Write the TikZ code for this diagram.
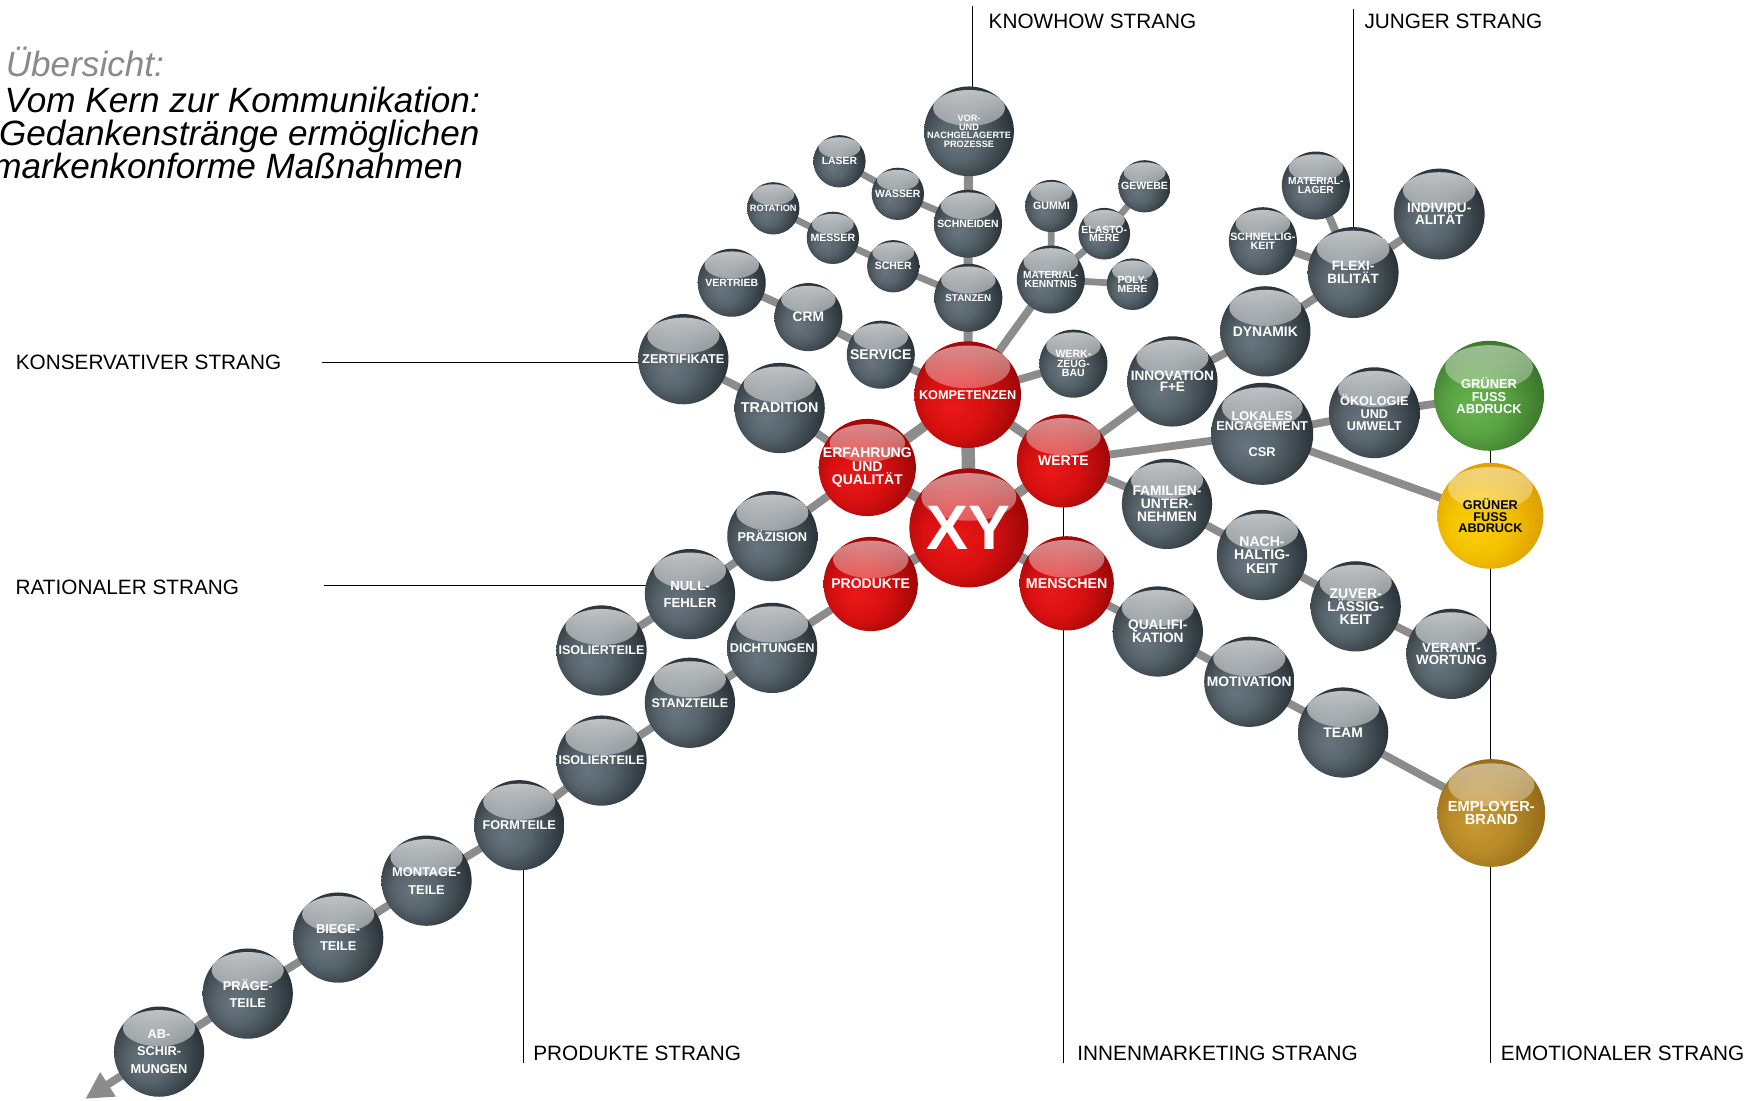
\documentclass[tikz,border=0pt]{standalone}
\usepackage{fontspec}
\setmainfont{Liberation Sans}
\usetikzlibrary{fadings,arrows.meta}
\definecolor{gA}{HTML}{68757E}
\definecolor{gB}{HTML}{58646C}
\definecolor{gC}{HTML}{232C32}
\definecolor{rA}{HTML}{EA1818}
\definecolor{rB}{HTML}{D81010}
\definecolor{rC}{HTML}{920505}
\definecolor{grA}{HTML}{68B450}
\definecolor{grB}{HTML}{58A242}
\definecolor{grC}{HTML}{356C26}
\definecolor{yA}{HTML}{FACE08}
\definecolor{yB}{HTML}{F4C200}
\definecolor{yC}{HTML}{D89800}
\definecolor{oA}{HTML}{C69A34}
\definecolor{oB}{HTML}{B88A28}
\definecolor{oC}{HTML}{8E6416}
\definecolor{conncol}{HTML}{8C8C8C}
\definecolor{titlegray}{HTML}{8A8A8A}
\pgfdeclareradialshading{sgray}{\pgfpoint{-8bp}{-6bp}}{color(0bp)=(gA); color(12bp)=(gB); color(31bp)=(gC); color(50bp)=(gC)}
\pgfdeclareradialshading{sred}{\pgfpoint{-8bp}{-6bp}}{color(0bp)=(rA); color(14bp)=(rB); color(32bp)=(rC); color(50bp)=(rC)}
\pgfdeclareradialshading{sgreen}{\pgfpoint{-8bp}{-6bp}}{color(0bp)=(grA); color(14bp)=(grB); color(32bp)=(grC); color(50bp)=(grC)}
\pgfdeclareradialshading{syellow}{\pgfpoint{-8bp}{-6bp}}{color(0bp)=(yA); color(14bp)=(yB); color(32bp)=(yC); color(50bp)=(yC)}
\pgfdeclareradialshading{sgold}{\pgfpoint{-8bp}{-6bp}}{color(0bp)=(oA); color(14bp)=(oB); color(32bp)=(oC); color(50bp)=(oC)}
\pgfdeclarelayer{back}
\pgfdeclarelayer{bg}
\pgfsetlayers{back,bg,main}
\tikzset{
  ball/.style n args={3}{circle, minimum size=#1, inner sep=0pt, outer sep=0pt,
    shading=#2, text=white, align=center,
    path picture={\fill[white, fill opacity=#3, path fading=south]
      ([yshift=0.26*#1]path picture bounding box.center) ellipse [x radius=0.40*#1, y radius=0.20*#1];}},
  gb/.style={ball={#1}{sgray}{0.72}},
  rb/.style={ball={#1}{sred}{0.55}},
  fnt/.style 2 args={font=\bfseries\fontsize{#1}{#2}\selectfont},
  conn/.style={draw=conncol, line width=7pt},
  thinconn/.style={draw=conncol, line width=6pt},
  lab/.style={draw=black, line width=1pt},
  labtext/.style={anchor=base west, inner sep=0pt, font=\fontsize{18.5}{20}\selectfont},
  titletext/.style={anchor=base west, inner sep=0pt, font=\itshape\fontsize{31.3}{30}\selectfont},
}
\begin{document}
\begin{tikzpicture}[x=1pt,y=-1pt]
\useasboundingbox (0,0) rectangle (1568,980);
\clip (0,0) rectangle (1568,980);
\begin{pgfonlayer}{back}
\fill[white] (0,0) rectangle (1568,980);
\end{pgfonlayer}

% title
\node[titletext, text=titlegray] (t0) at (5,68) {Übersicht:};
\node[titletext] (t1) at (4,100) {Vom Kern zur Kommunikation:};
\node[titletext] (t2) at (-1,130) {Gedankenstränge ermöglichen};
\node[titletext] (t3) at (-7,159) {markenkonforme Maßnahmen};

% strand labels
\node[labtext] (lKnow) at (880.6,25) {KNOWHOW STRANG};
\node[labtext] (lJung) at (1215.5,25) {JUNGER STRANG};
\node[labtext] (lKons) at (13.9,329.6) {KONSERVATIVER STRANG};
\node[labtext] (lRat) at (13.7,529.5) {RATIONALER STRANG};
\node[labtext] (lProd) at (475,945) {PRODUKTE STRANG};
\node[labtext] (lInnen) at (959.7,945) {INNENMARKETING STRANG};
\node[labtext] (lEmo) at (1337,945) {EMOTIONALER STRANG};

% red core
\node[rb=106pt, fnt={56}{56}] (XY) at (863.2,470.3) {XY};
\node[rb=95pt, fnt={11.3}{11}] (KOMP) at (862.1,351.6) {KOMPETENZEN};
\node[rb=84pt, fnt={12.5}{12.2}] (ERF) at (772.7,416.5) {ERFAHRUNG\\UND\\QUALITÄT};
\node[rb=83pt, fnt={12.5}{12}] (WERTE) at (947.4,410.6) {WERTE};
\node[rb=84pt, fnt={12.5}{12}] (PROD) at (775.7,520.3) {PRODUKTE};
\node[rb=84pt, fnt={12.7}{12}] (MENS) at (950.3,519.7) {MENSCHEN};

% knowhow branch
\node[gb=60.6pt, fnt={8.8}{8.5}] (STANZ) at (862.7,265.3) {STANZEN};
\node[gb=60.6pt, fnt={9.3}{9}] (SCHN) at (862.4,199.3) {SCHNEIDEN};
\node[gb=80pt, fnt={8.2}{7.6}] (VOR) at (863.3,117) {VOR-\\UND\\NACHGELAGERTE\\PROZESSE};
\node[gb=46.6pt, fnt={9.3}{9}] (WASS) at (799.9,172.7) {WASSER};
\node[gb=46.6pt, fnt={9.3}{9}] (LASER) at (747.9,143.7) {LASER};
\node[gb=46.6pt, fnt={9.4}{9}] (SCHER) at (795.8,237.2) {SCHER};
\node[gb=46.6pt, fnt={9.4}{9}] (MESS) at (742,211.9) {MESSER};
\node[gb=46.6pt, fnt={8.2}{8}] (ROT) at (688.9,185.6) {ROTATION};
\node[gb=60.6pt, fnt={9.1}{7.6}] (MATK) at (936.2,249) {MATERIAL-\\KENNTNIS};
\node[gb=46.6pt, fnt={9.5}{9}] (GUMMI) at (936.7,183.5) {GUMMI};
\node[gb=46pt, fnt={9.3}{7.4}] (ELAST) at (983.8,208.2) {ELASTO-\\MERE};
\node[gb=46.6pt, fnt={9.4}{9}] (GEW) at (1019.7,166) {GEWEBE};
\node[gb=46pt, fnt={9.2}{7.8}] (POLY) at (1009,253.2) {POLY-\\MERE};
\node[gb=60.6pt, fnt={9.4}{8.3}] (WERKZ) at (956.3,324) {WERK-\\ZEUG-\\BAU};

% conservative branch
\node[gb=60.6pt, fnt={12.5}{12}] (SERV) at (784.7,316) {SERVICE};
\node[gb=60.6pt, fnt={12.3}{12}] (CRM) at (720.2,282.5) {CRM};
\node[gb=60.6pt, fnt={9.3}{9}] (VERT) at (651.9,251.9) {VERTRIEB};
\node[gb=80.4pt, fnt={11.4}{11}] (ZERT) at (608.8,320) {ZERTIFIKATE};
\node[gb=80.4pt, fnt={12.7}{12}] (TRAD) at (694.6,363.5) {TRADITION};

% rational / product branch
\node[gb=80.4pt, fnt={11.4}{11}] (PRAEZ) at (688.1,477.7) {PRÄZISION};
\node[gb=80.4pt, fnt={11.7}{15}] (NULL) at (614.7,529.3) {NULL-\\FEHLER};
\node[gb=80.4pt, fnt={11.2}{11}] (ISOa) at (535.9,579.5) {ISOLIERTEILE};
\node[gb=80.4pt, fnt={11.3}{11}] (DICHT) at (687.9,577.2) {DICHTUNGEN};
\node[gb=80.4pt, fnt={11.2}{11}] (STZT) at (614.6,626.1) {STANZTEILE};
\node[gb=80.4pt, fnt={11.2}{11}] (ISOb) at (535.9,677.6) {ISOLIERTEILE};
\node[gb=80.4pt, fnt={11.3}{11}] (FORM) at (462.6,735.2) {FORMTEILE};
\node[gb=80.4pt, fnt={11.4}{16}] (MONT) at (380,784.6) {MONTAGE-\\TEILE};
\node[gb=80.4pt, fnt={11.4}{15.3}] (BIEGE) at (301.3,835.3) {BIEGE-\\TEILE};
\node[gb=80.4pt, fnt={11.4}{15.3}] (PRAEG) at (220.7,885.2) {PRÄGE-\\TEILE};
\node[gb=80.4pt, fnt={11.4}{16}] (AB) at (141.7,936.9) {AB-\\SCHIR-\\MUNGEN};
\coordinate (arrEnd) at (76,979);

% young branch
\node[gb=80.4pt, fnt={12.1}{10.4}] (INNO) at (1044.5,339.8) {INNOVATION\\F+E};
\node[gb=80.4pt, fnt={12.4}{12}] (DYN) at (1127.3,295.2) {DYNAMIK};
\node[gb=81pt, fnt={12}{11}] (FLEX) at (1205.5,242.8) {FLEXI-\\BILITÄT};
\node[gb=60.6pt, fnt={9.5}{7.4}] (SCHNL) at (1125.1,214.9) {SCHNELLIG-\\KEIT};
\node[gb=60.6pt, fnt={9.1}{7.2}] (MATL) at (1172.3,165.3) {MATERIAL-\\LAGER};
\node[gb=81pt, fnt={12.1}{11}] (INDIV) at (1282.2,190.7) {INDIVIDU-\\ALITÄT};

% emotional / values branch
\node[gb=90pt, fnt={11.4}{9.5}] (LOK) at (1124.5,386.5) {LOKALES\\ENGAGEMENT\\[13pt]CSR};
\node[gb=81pt, fnt={11.3}{11}] (OEKO) at (1224.4,367.7) {ÖKOLOGIE\\UND\\UMWELT};
\node[ball={98pt}{sgreen}{0.5}, fnt={11.5}{11.2}] (GREEN) at (1326.6,352.6) {GRÜNER\\FUSS\\ABDRUCK};
\node[ball={94.4pt}{syellow}{0.5}, fnt={11.3}{10.2}, text=black] (YEL) at (1327.8,459.5) {GRÜNER\\FUSS\\ABDRUCK};
\node[gb=80.4pt, fnt={12.3}{11.9}] (FAM) at (1039.7,448.9) {FAMILIEN-\\UNTER-\\NEHMEN};
\node[gb=80.4pt, fnt={12.5}{11.9}] (NACH) at (1124.3,494.5) {NACH-\\HALTIG-\\KEIT};
\node[gb=80.4pt, fnt={12.5}{11.5}] (ZUV) at (1207.8,540.2) {ZUVER-\\LÄSSIG-\\KEIT};
\node[gb=80.4pt, fnt={11.9}{11}] (VERA) at (1293.1,582.5) {VERANT-\\WORTUNG};

% inner marketing branch
\node[gb=80.4pt, fnt={12.2}{11.1}] (QUAL) at (1031.5,562.6) {QUALIFI-\\KATION};
\node[gb=80.4pt, fnt={12.3}{12}] (MOT) at (1113,607.4) {MOTIVATION};
\node[gb=80.4pt, fnt={12.4}{12}] (TEAM) at (1196.6,652.6) {TEAM};
\node[ball={96pt}{sgold}{0.5}, fnt={13}{11.5}] (EMPL) at (1328.6,724.3) {EMPLOYER-\\BRAND};

% label line ends
\coordinate (kwTop) at (866.7,5.5);
\coordinate (jgTop) at (1205.6,8.2);
\coordinate (ksL) at (287.2,322.8);
\coordinate (raL) at (288.3,521.6);
\coordinate (prB) at (466.7,947.4);
\coordinate (inB) at (947.5,947.4);
\coordinate (emB) at (1327.8,947.4);

\begin{pgfonlayer}{bg}
% label lines
\draw[lab] (kwTop) -- (kwTop |- VOR.center);
\draw[lab] (jgTop) -- (jgTop |- FLEX.center);
\draw[lab] (ksL) -- (ksL -| ZERT.center);
\draw[lab] (raL) -- (raL -| NULL.center);
\draw[lab] (prB) -- (prB |- FORM.center);
\draw[lab] (inB) -- (inB |- WERTE.center);
\draw[lab] (emB) -- (emB |- GREEN.center);
% core
\draw[conn, line width=12pt] (XY.center) -- (KOMP.center);
\draw[conn, line width=9pt] (XY.center) -- (ERF.center);
\draw[conn, line width=9pt] (XY.center) -- (WERTE.center);
\draw[conn, line width=9pt] (XY.center) -- (PROD.center);
\draw[conn, line width=9pt] (XY.center) -- (MENS.center);
\draw[conn, line width=9pt] (ERF.center) -- (KOMP.center);
\draw[conn, line width=8pt] (KOMP.center) -- (WERTE.center);
% knowhow
\draw[conn, line width=8pt] (KOMP.center) -- (STANZ.center) -- (SCHN.center) -- (VOR.center);
\draw[thinconn] (SCHN.center) -- (WASS.center) -- (LASER.center);
\draw[thinconn] (STANZ.center) -- (SCHER.center) -- (MESS.center) -- (ROT.center);
\draw[conn] (KOMP.center) -- (MATK.center);
\draw[thinconn] (MATK.center) -- (GUMMI.center);
\draw[thinconn] (MATK.center) -- (ELAST.center) -- (GEW.center);
\draw[thinconn] (MATK.center) -- (POLY.center);
\draw[conn] (KOMP.center) -- (WERKZ.center);
% conservative
\draw[conn] (KOMP.center) -- (SERV.center) -- (CRM.center) -- (VERT.center);
\draw[conn] (ERF.center) -- (TRAD.center) -- (ZERT.center);
% rational
\draw[conn] (ERF.center) -- (PRAEZ.center) -- (NULL.center) -- (ISOa.center);
% products
\draw[conn] (PROD.center) -- (DICHT.center) -- (STZT.center) -- (ISOb.center) -- (FORM.center)
  -- (MONT.center) -- (BIEGE.center) -- (PRAEG.center) -- (AB.center);
\draw[conn, -{Triangle[length=24pt,width=24pt]}] (AB.center) -- (arrEnd);
% young
\draw[conn] (WERTE.center) -- (INNO.center) -- (DYN.center) -- (FLEX.center) -- (INDIV.center);
\draw[conn] (FLEX.center) -- (SCHNL.center);
\draw[conn] (FLEX.center) -- (MATL.center);
% values
\draw[conn] (WERTE.center) -- (LOK.center) -- (OEKO.center) -- (GREEN.center);
\draw[conn] (LOK.center) -- (YEL.center);
\draw[conn] (WERTE.center) -- (FAM.center) -- (NACH.center) -- (ZUV.center) -- (VERA.center);
% people
\draw[conn] (MENS.center) -- (QUAL.center) -- (MOT.center) -- (TEAM.center) -- (EMPL.center);
\end{pgfonlayer}
\end{tikzpicture}
\end{document}
